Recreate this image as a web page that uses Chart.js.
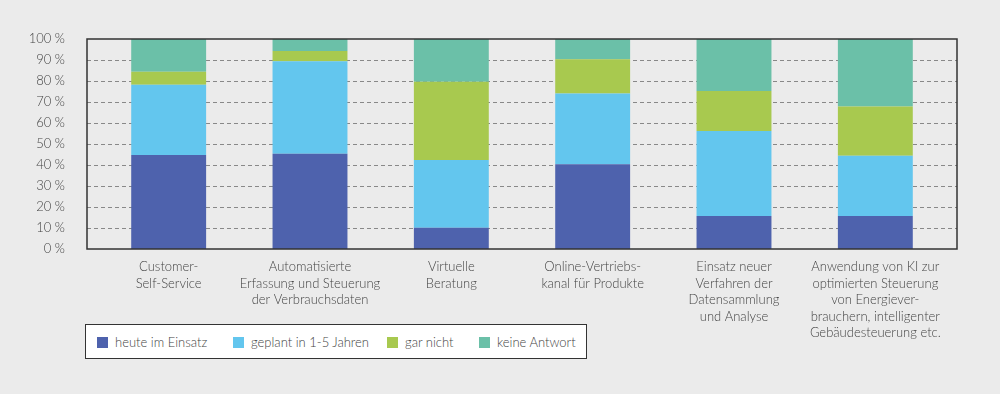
<!DOCTYPE html>
<html lang="de">
<head>
<meta charset="utf-8">
<title>Einsatz digitaler Anwendungen</title>
<script src="https://cdn.jsdelivr.net/npm/chart.js@4"></script>
<style>
  body { margin: 0; background: #ebebeb; font-family: Lato, "Open Sans", sans-serif; }
  #wrap { position: relative; width: 1000px; height: 394px; }
  #legend {
    position: absolute; left: 85px; top: 324px; width: 500px; height: 33px;
    background: #fff; border: 1.5px solid #333; box-sizing: content-box;
    font-size: 13px; font-weight: 300; color: #444;
  }
  #legend span.item { position: absolute; top: 9px; white-space: nowrap; line-height: 16px; }
  #legend span.box { display: inline-block; width: 11px; height: 11px; margin-right: 7px; vertical-align: -1px; }
</style>
</head>
<body>
<div id="wrap">
  <canvas id="chart"></canvas>
  <div id="legend"></div>
</div>
<script>
const categories = [
  ['Customer-', 'Self-Service'],
  ['Automatisierte', 'Erfassung und Steuerung', 'der Verbrauchsdaten'],
  ['Virtuelle', 'Beratung'],
  ['Online-Vertriebs-', 'kanal für Produkte'],
  ['Einsatz neuer', 'Verfahren der', 'Datensammlung', 'und Analyse'],
  ['Anwendung von KI zur', 'optimierten Steuerung', 'von Energiever-', 'brauchern, intelligenter', 'Gebäudesteuerung etc.']
];
const seriesNames = ['heute im Einsatz', 'geplant in 1-5 Jahren', 'gar nicht', 'keine Antwort'];
const heute = [44.8, 45.3, 10.1, 40.3, 15.7, 15.7];
const geplant = [33.4, 44.1, 32.3, 33.7, 40.5, 28.7];
const garNicht = [6.2, 4.9, 37.3, 16.3, 19.0, 23.4];
const keineAntwort = [15.6, 5.7, 20.3, 9.7, 24.8, 32.2];
const yTicks = [0, 10, 20, 30, 40, 50, 60, 70, 80, 90, 100];

const colors = ['#4e62ad', '#63c6ee', '#a8c94f', '#6bc0a8'];
const frameInset = 11; // frame sticks out past the category area

const frame = {
  id: 'frame',
  beforeDatasetsDraw(chart) {
    const { ctx, chartArea, scales } = chart;
    const l = chartArea.left - frameInset, r = chartArea.right + frameInset;
    ctx.save();
    ctx.strokeStyle = '#888';
    ctx.lineWidth = 1;
    ctx.setLineDash([4, 3]);
    yTicks.slice(1, -1).forEach(v => {
      const y = Math.round(scales.y.getPixelForValue(v)) + 0.5;
      ctx.beginPath();
      ctx.moveTo(l, y);
      ctx.lineTo(r, y);
      ctx.stroke();
    });
    ctx.restore();
  },
  afterDatasetsDraw(chart) {
    const { ctx, chartArea } = chart;
    ctx.save();
    ctx.strokeStyle = '#333';
    ctx.lineWidth = 1.5;
    ctx.strokeRect(chartArea.left - frameInset, chartArea.top, chartArea.width + 2 * frameInset, chartArea.height);
    ctx.restore();
  }
};

const allData = [heute, geplant, garNicht, keineAntwort];

new Chart(document.getElementById('chart'), {
  type: 'bar',
  data: {
    labels: categories,
    datasets: seriesNames.map((name, i) => ({
      label: name,
      data: allData[i],
      backgroundColor: colors[i],
      borderWidth: 0,
      barPercentage: 0.53,
      categoryPercentage: 1
    }))
  },
  options: {
    responsive: true,
    maintainAspectRatio: false,
    animation: false,
    layout: { padding: { top: 39, right: 54, left: 0, bottom: 0 } },
    plugins: { legend: { display: false }, tooltip: { enabled: false } },
    scales: {
      x: {
        stacked: true,
        grid: { display: false },
        border: { display: false },
        ticks: {
          color: '#444',
          padding: 2,
          maxRotation: 0,
          autoSkip: false,
          font: { family: 'Lato', size: 13, weight: 300, lineHeight: 1.27 }
        },
        afterFit(scale) { scale.height = 145; }
      },
      y: {
        stacked: true,
        min: 0,
        max: 100,
        grid: { display: false },
        border: { display: false },
        afterBuildTicks(scale) { scale.ticks = yTicks.map(v => ({ value: v })); },
        ticks: {
          color: '#444',
          padding: 25,
          font: { family: 'Lato', size: 13, weight: 300 },
          callback: v => v + ' %'
        },
        afterFit(scale) { scale.width = 98; }
      }
    }
  },
  plugins: [frame]
});

const legend = document.getElementById('legend');
const legendX = [11, 147, 301, 393];
seriesNames.forEach((name, i) => {
  const item = document.createElement('span');
  item.className = 'item';
  item.style.left = legendX[i] + 'px';
  item.innerHTML = '<span class="box" style="background:' + colors[i] + '"></span>' + name;
  legend.appendChild(item);
});
</script>
</body>
</html>
